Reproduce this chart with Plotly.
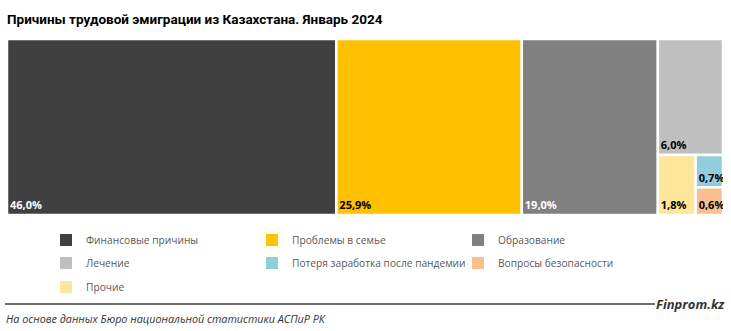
import plotly.graph_objects as go

categories = ["Финансовые причины", "Проблемы в семье", "Образование", "Лечение",
              "Потеря заработка после пандемии", "Вопросы безопасности", "Прочие"]
values = [46.0, 25.9, 19.0, 6.0, 0.7, 0.6, 1.8]
labels = ["46,0%", "25,9%", "19,0%", "6,0%", "0,7%", "0,6%", "1,8%"]
colors = ["#404040", "#FFC000", "#808080", "#BFBFBF", "#92CDDC", "#F9BF8F", "#FFE699"]
label_colors = ["white", "black", "white", "black", "black", "black", "black"]

# plotting area in pixels (used only as the aspect of the treemap layout)
W, H = 716.0, 176.0
L, T = 7, 39


def worst(row, length):
    s = sum(row)
    return max(max(length ** 2 * r / s ** 2, s ** 2 / (length ** 2 * r)) for r in row)


def squarify(items, x, y, w, h):
    # items: list of (index, area); y axis points up; returns {index: (x0, y0, x1, y1)}
    out = {}
    row = []

    def lay(row, x, y, w, h):
        s = sum(a for _, a in row)
        if w >= h:
            cw = s / h
            top = y + h
            for idx, a in row:
                ih = a / cw
                out[idx] = (x, top - ih, x + cw, top)
                top -= ih
            return x + cw, y, w - cw, h
        else:
            rh = s / w
            left = x
            for idx, a in row:
                iw = a / rh
                out[idx] = (left, y + h - rh, left + iw, y + h)
                left += iw
            return x, y, w, h - rh

    i = 0
    while i < len(items):
        length = min(w, h)
        cand = row + [items[i]]
        if not row or worst([a for _, a in cand], length) <= worst([a for _, a in row], length):
            row = cand
            i += 1
        else:
            x, y, w, h = lay(row, x, y, w, h)
            row = []
    if row:
        lay(row, x, y, w, h)
    return out


total = sum(values)
order = sorted(range(len(values)), key=lambda k: -values[k])
items = [(k, values[k] / total * W * H) for k in order]
rects = squarify(items, 0.0, 0.0, W, H)

fig = go.Figure()
for k in order:
    x0, y0, x1, y1 = rects[k]
    fig.add_trace(go.Scatter(
        x=[x0, x1, x1, x0, x0], y=[y0, y0, y1, y1, y0],
        mode="lines", fill="toself", fillcolor=colors[k],
        line=dict(color="white", width=2.5), showlegend=False, hoverinfo="skip"))
    fig.add_trace(go.Scatter(
        x=[x0 + 3], y=[y0 + 3], mode="text", text=[f"<b>{labels[k]}</b>"],
        textposition="top right",
        textfont=dict(family="Open Sans", size=11, color=label_colors[k]),
        showlegend=False, hoverinfo="skip"))

legend_ids = ["legend", "legend2", "legend3"]
for k, name in enumerate(categories):
    fig.add_trace(go.Scatter(
        x=[None], y=[None], mode="markers", name=name,
        legend=legend_ids[k // 3],
        marker=dict(symbol="square", size=8, color=colors[k])))


def px_x(px):
    return (px - L) / W


def px_y(py):
    return (T + H - py) / H


fig.add_shape(type="line", xref="paper", yref="paper",
              x0=px_x(5), x1=px_x(655), y0=px_y(304), y1=px_y(304),
              line=dict(color="#404040", width=1.5))
fig.add_annotation(xref="paper", yref="paper", x=px_x(727), y=px_y(304),
                   xanchor="right", yanchor="middle", showarrow=False,
                   text="<b><i>Finprom.kz</i></b>",
                   font=dict(family="Open Sans", size=13, color="#333333"))
fig.add_annotation(xref="paper", yref="paper", x=px_x(4), y=px_y(318),
                   xanchor="left", yanchor="middle", showarrow=False,
                   text="<i>На основе данных Бюро национальной статистики АСПиР РК</i>",
                   font=dict(family="Open Sans", size=10.8, color="#333333"))

legend_common = dict(orientation="h", xanchor="left", yanchor="middle",
                     entrywidth=161, entrywidthmode="pixels",
                     font=dict(family="Open Sans", size=10.2, color="#595959"),
                     itemsizing="constant", bgcolor="rgba(0,0,0,0)")
row_y = [240, 263, 287]

fig.update_layout(
    width=731, height=331,
    margin=dict(l=L, r=731 - L - int(W), t=T, b=331 - T - int(H), pad=0),
    paper_bgcolor="white", plot_bgcolor="white",
    title=dict(text="<b>Причины трудовой эмиграции из Казахстана. Январь 2024</b>",
               x=7 / 731, xanchor="left", y=1 - 19 / 331, yanchor="middle",
               font=dict(family="Roboto", size=13.5, color="#000000")),
    xaxis=dict(range=[0, W], visible=False, fixedrange=True),
    yaxis=dict(range=[0, H], visible=False, fixedrange=True),
    legend=dict(x=px_x(46), y=px_y(row_y[0]), **legend_common),
    legend2=dict(x=px_x(46), y=px_y(row_y[1]), **legend_common),
    legend3=dict(x=px_x(46), y=px_y(row_y[2]), **legend_common),
    showlegend=True,
)

fig.write_html("out.html")
